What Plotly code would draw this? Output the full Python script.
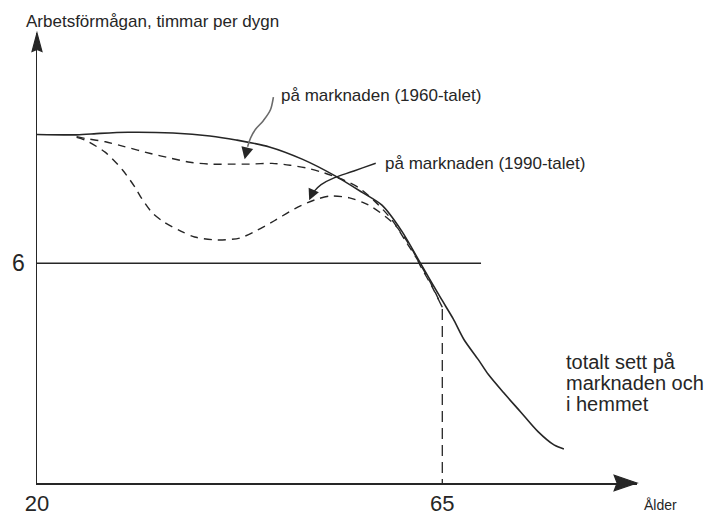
import plotly.graph_objects as go

# ---------------- data ----------------
ages_total = [20, 24.4, 27.0, 30.1, 35.1, 39.2, 42.1, 45.8, 49.5, 53.1, 56.1,
              58.3, 60.5, 62.7, 64.9, 66.2, 67.4, 69.0, 70.1, 71.8, 73.7, 75.6,
              77.4, 78.5]
hours_total = [9.52, 9.51, 9.55, 9.58, 9.56, 9.48, 9.37, 9.18, 8.84, 8.39, 7.94,
               7.59, 6.88, 5.95, 5.02, 4.49, 3.92, 3.37, 2.97, 2.47, 1.94, 1.41,
               1.04, 0.93]

ages_1960 = [24.4, 25.4, 27.6, 29.7, 32.6, 34.9, 37.0, 39.2, 41.4, 43.6, 46.1,
             48.1, 50.0, 51.9, 54.2, 55.7, 57.4, 59.4, 61.0, 62.5, 63.8, 65.0]
hours_1960 = [9.46, 9.41, 9.32, 9.19, 9.00, 8.87, 8.76, 8.71, 8.71, 8.71, 8.73,
              8.68, 8.60, 8.47, 8.26, 8.07, 7.72, 7.19, 6.58, 6.00, 5.42, 4.80]

ages_1990 = [24.4, 25.3, 27.6, 29.5, 30.9, 31.6, 32.8, 34.2, 35.8, 37.5, 40.0,
             42.5, 44.4, 46.4, 48.6, 50.8, 52.6, 54.7, 56.1, 57.2, 59.7, 61.6,
             62.7, 63.8, 65.0]
hours_1990 = [9.44, 9.37, 9.03, 8.55, 8.07, 7.78, 7.38, 7.11, 6.90, 6.72, 6.64,
              6.69, 6.90, 7.17, 7.49, 7.73, 7.84, 7.79, 7.67, 7.54, 7.06, 6.40,
              5.87, 5.39, 4.80]

ages_retire = [65, 65]
hours_retire = [4.75, 0]

ref_hours = 6
ref_ages = [20, 69.3]

x_ticks = [20, 65]
y_ticks = [6]

title_text = "Arbetsförmågan, timmar per dygn"
label_1960 = "på marknaden (1960-talet)"
label_1990 = "på marknaden (1990-talet)"
label_total = ["totalt sett på", "marknaden och", "i hemmet"]
x_label = "Ålder"

# ---------------- layout geometry ----------------
W, H = 715, 528
PL, PR, PT, PB = 33, 637, 33, 496          # plot area in pixels
PX_PER_YEAR = 408 / 45.0
PX_PER_HOUR = 226 / 6.0
X0 = 20
X1 = X0 + (PR - PL) / PX_PER_YEAR
Y0 = 0
Y1 = (PB - PT) / PX_PER_HOUR

def dx(px):
    return X0 + (px - PL) / PX_PER_YEAR

def dy(py):
    return (PB - py) / PX_PER_HOUR

def paper_x(px):
    return (px - PL) / (PR - PL)

def paper_y(py):
    return (PB - py) / (PB - PT)

INK = "#262626"
FONT = "Liberation Sans, Arial, Helvetica, sans-serif"

fig = go.Figure()

fig.add_trace(go.Scatter(x=ref_ages, y=[ref_hours] * len(ref_ages), mode="lines",
                         line=dict(color=INK, width=1.5), hoverinfo="skip"))
fig.add_trace(go.Scatter(x=ages_1960, y=hours_1960, mode="lines",
                         line=dict(color=INK, width=1.4, dash="8px,6px", shape="spline", smoothing=0.8),
                         hoverinfo="skip"))
fig.add_trace(go.Scatter(x=ages_1990, y=hours_1990, mode="lines",
                         line=dict(color=INK, width=1.4, dash="8px,6px", shape="spline", smoothing=0.8),
                         hoverinfo="skip"))
fig.add_trace(go.Scatter(x=ages_retire, y=hours_retire, mode="lines",
                         line=dict(color=INK, width=1.3, dash="11px,6px"), hoverinfo="skip"))
fig.add_trace(go.Scatter(x=ages_total, y=hours_total, mode="lines",
                         line=dict(color=INK, width=1.6, shape="spline", smoothing=0.8),
                         hoverinfo="skip"))

# ---------------- curved pointer tails & arrowheads ----------------
def smooth_path(pts):
    p = [(dx(a), dy(b)) for a, b in pts]
    s = "M %.4f,%.4f" % p[0]
    for i in range(len(p) - 1):
        p0 = p[i - 1] if i > 0 else p[i]
        p1 = p[i]
        p2 = p[i + 1]
        p3 = p[i + 2] if i + 2 < len(p) else p[i + 1]
        c1 = (p1[0] + (p2[0] - p0[0]) / 6, p1[1] + (p2[1] - p0[1]) / 6)
        c2 = (p2[0] - (p3[0] - p1[0]) / 6, p2[1] - (p3[1] - p1[1]) / 6)
        s += " C %.4f,%.4f %.4f,%.4f %.4f,%.4f" % (c1 + c2 + p2)
    return s

def paper_poly(pts):
    return "M " + " L ".join("%.5f,%.5f" % (paper_x(a), paper_y(b)) for a, b in pts) + " Z"

tail_1960 = [(271, 99), (268, 112), (261, 123), (253, 132), (248, 141), (245, 150)]
tail_1990 = [(374, 167), (352, 175), (332, 182), (319, 189), (311, 197)]
x_arrow_head = [(PR, PB), (PR - 23, PB - 8), (PR - 20, PB), (PR - 23, PB + 8)]
y_arrow_head = [(PL, PT), (PL - 5, PT + 19), (PL, PT + 17), (PL + 5, PT + 19)]

shapes = [
    dict(type="path", path=smooth_path(tail_1960), xref="x", yref="y",
         line=dict(color="#6a6a6a", width=1.6)),
    dict(type="path", path=smooth_path(tail_1990), xref="x", yref="y",
         line=dict(color=INK, width=1.4)),
    dict(type="path", path=paper_poly(x_arrow_head), xref="paper", yref="paper",
         fillcolor=INK, line=dict(color=INK, width=1.2)),
    dict(type="path", path=paper_poly(y_arrow_head), xref="paper", yref="paper",
         fillcolor=INK, line=dict(color=INK, width=1.2)),
]

annotations = [
    # pointer heads
    dict(x=dx(242), y=dy(163), ax=3, ay=-13, xref="x", yref="y",
         text="", showarrow=True, arrowhead=2, arrowsize=1.6, arrowwidth=1.5, arrowcolor=INK),
    dict(x=dx(307), y=dy(205), ax=4, ay=-9, xref="x", yref="y",
         text="", showarrow=True, arrowhead=2, arrowsize=1.6, arrowwidth=1.4, arrowcolor=INK),
    # texts
    dict(x=paper_x(20), y=paper_y(21), xref="paper", yref="paper", text=title_text,
         showarrow=False, xanchor="left", yanchor="middle",
         font=dict(size=17, color=INK, family=FONT)),
    dict(x=paper_x(277), y=paper_y(97), xref="paper", yref="paper", text=label_1960,
         showarrow=False, xanchor="left", yanchor="middle",
         font=dict(size=17, color=INK, family=FONT)),
    dict(x=paper_x(381), y=paper_y(167), xref="paper", yref="paper", text=label_1990,
         showarrow=False, xanchor="left", yanchor="middle",
         font=dict(size=17, color=INK, family=FONT)),
    dict(x=paper_x(642), y=paper_y(519), xref="paper", yref="paper", text=x_label,
         showarrow=False, xanchor="left", yanchor="middle",
         font=dict(size=14, color=INK, family=FONT)),
]
for i, line in enumerate(label_total):
    annotations.append(dict(x=paper_x(564), y=paper_y(372 + 21.5 * i), xref="paper", yref="paper",
                            text=line, showarrow=False, xanchor="left", yanchor="middle",
                            font=dict(size=20, color=INK, family=FONT)))

fig.update_layout(
    width=W, height=H,
    margin=dict(l=PL, r=W - PR, t=PT, b=H - PB, pad=0),
    paper_bgcolor="white", plot_bgcolor="white",
    showlegend=False,
    shapes=shapes,
    annotations=annotations,
    font=dict(family=FONT, color=INK),
)
fig.update_xaxes(range=[X0, X1], showline=True, linewidth=1.5, linecolor=INK,
                 tickvals=x_ticks, ticktext=[str(v) for v in x_ticks], ticks="",
                 showgrid=False, zeroline=False, tickfont=dict(size=22, color=INK, family=FONT),
                 fixedrange=True)
fig.update_yaxes(range=[Y0, Y1], showline=True, linewidth=1.5, linecolor=INK,
                 tickvals=y_ticks, ticktext=[str(v) for v in y_ticks], ticks="",
                 ticklabelstandoff=6,
                 showgrid=False, zeroline=False, tickfont=dict(size=23, color=INK, family=FONT),
                 fixedrange=True)

fig.write_html("out.html",
               config={"displayModeBar": False, "staticPlot": True},
               post_script="document.body.style.margin='0';document.body.style.overflow='hidden';")
